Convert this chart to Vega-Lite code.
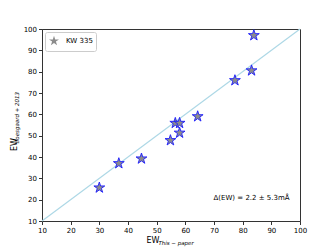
{
  "$schema": "https://vega.github.io/schema/vega-lite/v6.json",
  "width": 258,
  "height": 192,
  "autosize": {"type": "none"},
  "padding": {"left": 42, "top": 29, "right": 32, "bottom": 28},
  "background": "white",
  "config": {
    "font": "DejaVu Sans",
    "view": {"stroke": "#333", "strokeWidth": 1},
    "axis": {"grid": false, "domainColor": "#333", "tickColor": "#333", "tickSize": 3.5, "labelFontSize": 7, "labelColor": "#000", "labelFont": "DejaVu Sans", "labelPadding": 2, "title": null, "tickCount": 10, "labelOverlap": false, "labelSeparation": 0}
  },
  "layer": [
    {
      "data": {"values": [{"v": 10}, {"v": 100}]},
      "mark": {"type": "line", "color": "#add8e6", "strokeWidth": 1.2},
      "encoding": {
        "x": {"field": "v", "type": "quantitative", "scale": {"domain": [10, 100], "nice": false}, "axis": {"orient": "bottom", "tickCount": 10, "values": [10,20,30,40,50,60,70,80,90,100], "labelOverlap": false, "labelFlush": false, "labelBound": false}},
        "y": {"field": "v", "type": "quantitative", "scale": {"domain": [10, 100], "nice": false}, "axis": {"orient": "left", "tickCount": 10, "values": [10,20,30,40,50,60,70,80,90,100], "labelOverlap": false, "labelFlush": false, "labelBound": false}}
      }
    },
    {
      "data": {"values": [
        {"name": "KW 335", "ew_this": 30.0, "ew_boes": 25.6},
        {"name": "KW 335", "ew_this": 36.8, "ew_boes": 37.0},
        {"name": "KW 335", "ew_this": 44.7, "ew_boes": 39.2},
        {"name": "KW 335", "ew_this": 54.8, "ew_boes": 47.8},
        {"name": "KW 335", "ew_this": 56.5, "ew_boes": 55.9},
        {"name": "KW 335", "ew_this": 58.0, "ew_boes": 55.9},
        {"name": "KW 335", "ew_this": 58.0, "ew_boes": 51.3},
        {"name": "KW 335", "ew_this": 64.3, "ew_boes": 59.0},
        {"name": "KW 335", "ew_this": 77.3, "ew_boes": 75.9},
        {"name": "KW 335", "ew_this": 83.1, "ew_boes": 80.5},
        {"name": "KW 335", "ew_this": 83.9, "ew_boes": 97.0}
      ]},
      "mark": {"type": "point", "filled": true, "fill": "#8c8c8c", "stroke": "#1a1aff", "strokeWidth": 0.9, "opacity": 1, "size": 130},
      "encoding": {
        "x": {"field": "ew_this", "type": "quantitative"},
        "y": {"field": "ew_boes", "type": "quantitative"},
        "shape": {"field": "name", "type": "nominal", "scale": {"range": ["M0,-1L0.2245,-0.309L0.9511,-0.309L0.3633,0.118L0.5878,0.809L0,0.382L-0.5878,0.809L-0.3633,0.118L-0.9511,-0.309L-0.2245,-0.309Z"]},
          "legend": {"title": null, "orient": "top-left", "offset": 3, "padding": 3, "strokeColor": "#cccccc", "fillColor": "white", "cornerRadius": 2, "labelFontSize": 7, "labelFont": "DejaVu Sans", "symbolSize": 110, "symbolFillColor": "#8c8c8c", "symbolStrokeColor": "#1a1aff", "symbolStrokeWidth": 0.9, "symbolOpacity": 1, "labelOffset": 6}}
      }
    },
    {
      "data": {"values": [{"k": 1}]},
      "mark": {"type": "text", "text": "Δ(EW) = 2.2 ± 5.3mÅ", "fontSize": 7, "align": "center", "baseline": "alphabetic", "font": "DejaVu Sans"},
      "encoding": {"x": {"datum": 83.1, "type": "quantitative"}, "y": {"datum": 20, "type": "quantitative"}}
    },
    {
      "data": {"values": [{"k": 1}]},
      "mark": {"type": "text", "text": "EW", "fontSize": 8, "align": "center", "baseline": "alphabetic", "font": "DejaVu Sans"},
      "encoding": {"x": {"datum": 48.7, "type": "quantitative"}, "y": {"datum": -0.2, "type": "quantitative"}}
    },
    {
      "data": {"values": [{"k": 1}]},
      "mark": {"type": "text", "text": "This − paper", "fontSize": 5.5, "fontStyle": "italic", "align": "left", "baseline": "alphabetic", "font": "DejaVu Sans"},
      "encoding": {"x": {"datum": 50.6, "type": "quantitative"}, "y": {"datum": -1.1, "type": "quantitative"}}
    },
    {
      "data": {"values": [{"k": 1}]},
      "mark": {"type": "text", "text": "EW", "fontSize": 8, "angle": 270, "align": "center", "baseline": "alphabetic", "font": "DejaVu Sans"},
      "encoding": {"x": {"datum": 1.4, "type": "quantitative"}, "y": {"datum": 45.8, "type": "quantitative"}}
    },
    {
      "data": {"values": [{"k": 1}]},
      "mark": {"type": "text", "text": "Boesgaard + 2013", "fontSize": 5.5, "fontStyle": "italic", "angle": 270, "align": "center", "baseline": "alphabetic", "font": "DejaVu Sans"},
      "encoding": {"x": {"datum": 2.1, "type": "quantitative"}, "y": {"datum": 58.4, "type": "quantitative"}}
    }
  ]
}
